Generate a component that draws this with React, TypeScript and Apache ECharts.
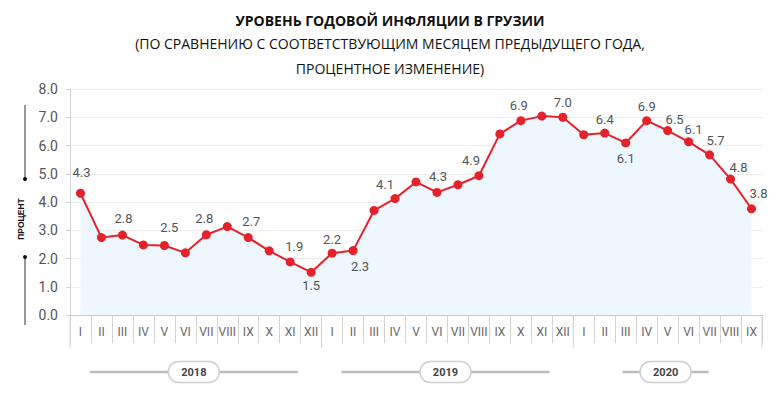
import React, { useEffect, useRef } from "react";
import * as echarts from "echarts";

const titleLines = [
  "УРОВЕНЬ ГОДОВОЙ ИНФЛЯЦИИ В ГРУЗИИ",
  "(ПО СРАВНЕНИЮ С СООТВЕТСТВУЮЩИМ МЕСЯЦЕМ ПРЕДЫДУЩЕГО ГОДА,",
  "ПРОЦЕНТНОЕ ИЗМЕНЕНИЕ)",
];
const yAxisTitle = "ПРОЦЕНТ";

const months = [
  "I", "II", "III", "IV", "V", "VI", "VII", "VIII", "IX", "X", "XI", "XII",
  "I", "II", "III", "IV", "V", "VI", "VII", "VIII", "IX", "X", "XI", "XII",
  "I", "II", "III", "IV", "V", "VI", "VII", "VIII", "IX",
];
const years = ["2018", "2019", "2020"];
const yearMonthCounts = [12, 12, 9];

const values = [
  4.31, 2.74, 2.83, 2.48, 2.46, 2.2, 2.84, 3.13, 2.74, 2.27, 1.88, 1.51,
  2.19, 2.28, 3.7, 4.12, 4.71, 4.34, 4.61, 4.93, 6.41, 6.88, 7.04, 7.0,
  6.38, 6.44, 6.09, 6.88, 6.53, 6.13, 5.67, 4.81, 3.76,
];
// indices of points whose value is printed
const labeledPoints = [0, 2, 4, 6, 8, 10, 11, 12, 13, 15, 17, 19, 21, 23, 25, 26, 27, 28, 29, 30, 31, 32];

const yMin = 0;
const yMax = 8;
const yStep = 1;

// label placement (style): [dx, dy] from the point centre
const labelOffsets: Record<number, [number, number]> = {
  0: [1, -21], 2: [1, -17], 4: [5, -18], 6: [-2, -16], 8: [3, -16], 10: [4, -15],
  11: [0, 13], 12: [0, -14], 13: [7, 16], 15: [-10, -14], 17: [1, -16], 19: [-8, -15],
  21: [-2, -15], 23: [0, -15], 25: [0, -14], 26: [0, 16], 27: [0, -14], 28: [7, -11],
  29: [5, -12], 30: [6, -14], 31: [8, -12], 32: [7, -15],
};
const yearLineHalf = [104, 104, 43];

const RED = "#e5222b";
const GRAY_TXT = "#555";

export default function App() {
  const ref = useRef<HTMLDivElement>(null);
  useEffect(() => {
    if (!ref.current) return;
    const chart = echarts.init(ref.current, undefined, { renderer: "svg" });
    const data = values.map((v, i) => {
      const shown = labeledPoints.includes(i);
      const off = labelOffsets[i] || [0, -15];
      return {
        value: v,
        label: shown
          ? {
              show: true,
              position: "inside",
              offset: off,
              formatter: () => v.toFixed(1),
              color: GRAY_TXT,
              fontSize: 13,
              fontFamily: "Roboto, 'Noto Sans', sans-serif",
              textBorderWidth: 0,
            }
          : { show: false },
      };
    });
    chart.setOption({
      animation: false,
      backgroundColor: "#ffffff",
      title: titleLines.map((t, i) => ({
        text: t,
        left: "center",
        top: i === 0 ? 8 : 7 + i * 24.5,
        textStyle: {
          fontSize: 14,
          fontWeight: i === 0 ? "bold" : "normal",
          color: "#111",
          fontFamily: "'Open Sans', 'Noto Sans', sans-serif",
        },
      })),
      grid: { left: 70, right: 18, top: 89, bottom: 80 },
      xAxis: {
        type: "category",
        data: months,
        boundaryGap: true,
        axisLine: { lineStyle: { color: "#c8c8c8", width: 1 } },
        axisTick: { show: true, interval: 0, length: 28, lineStyle: { color: "#d4d4d4" } },
        axisLabel: {
          interval: 0,
          margin: 11,
          color: "#666",
          fontSize: 12,
          fontFamily: "'Liberation Sans Narrow', Roboto, sans-serif",
        },
        splitLine: { show: false },
      },
      yAxis: {
        type: "value",
        min: yMin,
        max: yMax,
        interval: yStep,
        axisLine: { show: true, lineStyle: { color: "#d4d4d4" } },
        axisTick: { show: true, length: 4, lineStyle: { color: "#d4d4d4" } },
        axisLabel: {
          formatter: (v: number) => v.toFixed(1),
          color: GRAY_TXT,
          fontSize: 14,
          margin: 12,
          fontFamily: "Roboto, 'Noto Sans', sans-serif",
        },
        splitLine: { show: true, lineStyle: { color: "#ececec", width: 1 } },
      },
      series: [
        {
          type: "line",
          data,
          symbol: "circle",
          symbolSize: 9,
          itemStyle: { color: RED },
          lineStyle: { color: RED, width: 2 },
          areaStyle: { color: "#eef7fd", opacity: 1 },
          z: 3,
        },
      ],
    });

    // year bands, built from the category axis scale
    const x0 = chart.convertToPixel({ xAxisIndex: 0 }, 0) as number;
    const x1 = chart.convertToPixel({ xAxisIndex: 0 }, 1) as number;
    const cw = x1 - x0;
    const axisY = chart.convertToPixel({ yAxisIndex: 0 }, 0) as number;
    const graphics: any[] = [];
    let start = 0;
    years.forEach((y, k) => {
      const n = yearMonthCounts[k];
      const left = x0 - cw / 2 + start * cw;
      const right = left + n * cw;
      const cx = (left + right) / 2 - 2;
      const cy = axisY + 57;
      const half = yearLineHalf[k];
      graphics.push({
        type: "line",
        shape: { x1: cx - half, y1: cy, x2: cx + half, y2: cy },
        style: { stroke: "#bdbdbd", lineWidth: 2.5 },
        z: 10,
      });
      graphics.push({
        type: "rect",
        shape: { x: cx - 25.5, y: cy - 10.5, width: 51, height: 21, r: 10.5 },
        style: { fill: "#fff", stroke: "#cfcfcf", lineWidth: 1.5 },
        z: 11,
      });
      graphics.push({
        type: "text",
        x: cx,
        y: cy,
        style: {
          text: y,
          fill: "#444",
          font: "bold 11px 'Liberation Sans Narrow', Roboto, sans-serif",
          textAlign: "center",
          textVerticalAlign: "middle",
        },
        z: 12,
      });
      // year boundary lines (slightly longer ticks)
      graphics.push({
        type: "line",
        shape: { x1: left, y1: axisY, x2: left, y2: axisY + 33 },
        style: { stroke: "#d4d4d4", lineWidth: 1 },
        z: 9,
      });
      if (k === years.length - 1) {
        graphics.push({
          type: "line",
          shape: { x1: right, y1: axisY, x2: right, y2: axisY + 33 },
          style: { stroke: "#d4d4d4", lineWidth: 1 },
          z: 9,
        });
      }
      start += n;
    });

    // y-axis title with decorative arrows
    graphics.push({
      type: "text",
      x: 21,
      y: 219,
      rotation: Math.PI / 2,
      style: {
        text: yAxisTitle,
        fill: "#111",
        font: "bold 8.5px 'Liberation Sans', sans-serif",
        textAlign: "center",
        textVerticalAlign: "middle",
      },
    });
    graphics.push({ type: "line", shape: { x1: 25, y1: 105, x2: 25, y2: 179 }, style: { stroke: "#333", lineWidth: 1 } });
    graphics.push({ type: "circle", shape: { cx: 25, cy: 179, r: 2 }, style: { fill: "#111" } });
    graphics.push({ type: "line", shape: { x1: 25, y1: 257, x2: 25, y2: 325 }, style: { stroke: "#333", lineWidth: 1 } });
    graphics.push({ type: "circle", shape: { cx: 25, cy: 257, r: 2 }, style: { fill: "#111" } });

    chart.setOption({ graphic: graphics });
    return () => chart.dispose();
  }, []);
  return (
    <div
      ref={ref}
      style={{ position: "absolute", left: 0, top: 0, width: 780, height: 395 }}
    />
  );
}
